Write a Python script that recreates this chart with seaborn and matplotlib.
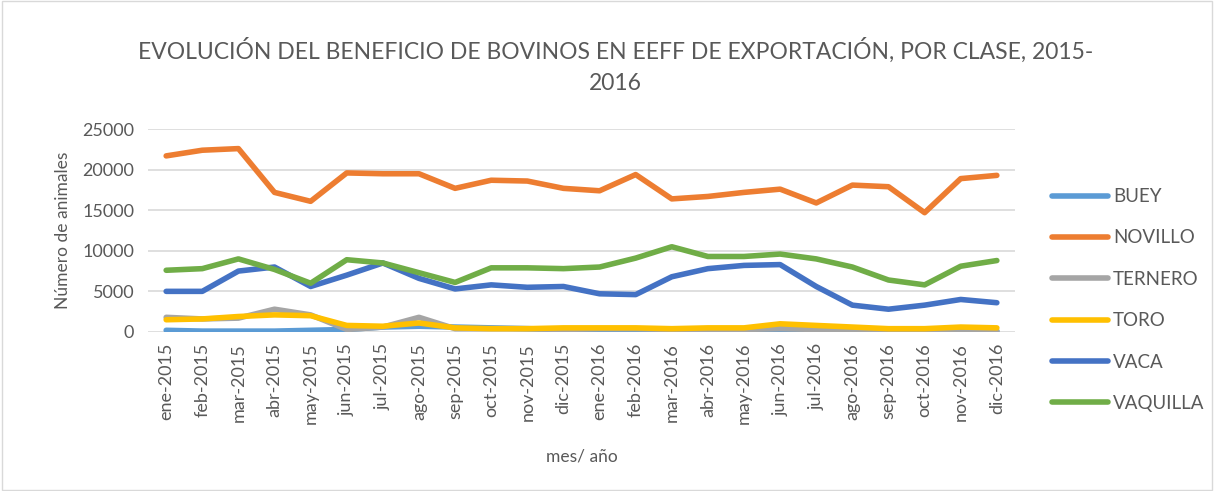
"""
Evolución del beneficio de bovinos en EEFF de exportación, por clase
"""
import numpy as np
import pandas as pd
import matplotlib
matplotlib.use("Agg")
import matplotlib.pyplot as plt
import seaborn as sns

meses = ["ene-2015", "feb-2015", "mar-2015", "abr-2015", "may-2015", "jun-2015",
         "jul-2015", "ago-2015", "sep-2015", "oct-2015", "nov-2015", "dic-2015",
         "ene-2016", "feb-2016", "mar-2016", "abr-2016", "may-2016", "jun-2016",
         "jul-2016", "ago-2016", "sep-2016", "oct-2016", "nov-2016", "dic-2016"]

buey = [200, 100, 100, 100, 200, 300, 600, 700, 600, 500, 400, 300,
        200, 200, 200, 200, 300, 300, 200, 200, 200, 200, 100, 100]
novillo = [21700, 22400, 22600, 17200, 16100, 19600, 19500, 19500, 17700, 18700, 18600, 17700,
           17400, 19400, 16400, 16700, 17200, 17600, 15900, 18100, 17900, 14700, 18900, 19300]
ternero = [1800, 1600, 1700, 2800, 2100, 300, 600, 1800, 400, 400, 400, 300,
           400, 400, 300, 300, 300, 400, 300, 100, 200, 200, 100, 100]
toro = [1500, 1600, 1900, 2100, 2000, 800, 700, 1100, 500, 400, 400, 500,
        500, 500, 400, 500, 500, 1000, 800, 600, 400, 400, 600, 500]
vaca = [5000, 5000, 7500, 8000, 5600, 7000, 8500, 6600, 5300, 5800, 5500, 5600,
        4700, 4600, 6800, 7800, 8200, 8300, 5600, 3300, 2800, 3300, 4000, 3600]
vaquilla = [7600, 7800, 9000, 7700, 6000, 8900, 8500, 7300, 6100, 7900, 7900, 7800,
            8000, 9100, 10500, 9300, 9300, 9600, 9000, 8000, 6400, 5800, 8100, 8800]

clases = ["BUEY", "NOVILLO", "TERNERO", "TORO", "VACA", "VAQUILLA"]
colores = ["#5B9BD5", "#ED7D31", "#A5A5A5", "#FFC000", "#4472C4", "#70AD47"]

series = [buey, novillo, ternero, toro, vaca, vaquilla]
df = pd.concat([
    pd.DataFrame({"idx": np.arange(len(meses)), "mes": meses, "valor": v, "clase": c})
    for c, v in zip(clases, series)
])

sns.set_style("white")
plt.rcParams["font.family"] = ["Lato", "DejaVu Sans"]
gris = "#595959"

fig = plt.figure(figsize=(12.14, 4.91), dpi=100)
ax = fig.add_axes([0.122, 0.324, 0.714, 0.413])

sns.lineplot(data=df, x="idx", y="valor", hue="clase", hue_order=clases,
             palette=colores, linewidth=4.0, ax=ax, legend=True,
             solid_capstyle="round", solid_joinstyle="round")

ax.set_xlim(-0.5, len(meses) - 0.5)
ax.set_ylim(0, 25000)
ax.set_yticks(range(0, 25001, 5000))
ax.set_xticks(range(len(meses)))
ax.set_xticklabels(meses, rotation=90, fontsize=13, color=gris)
ax.tick_params(axis="y", labelsize=13, labelcolor=gris, length=0, pad=10)
ax.tick_params(axis="x", length=0, pad=8)
ax.yaxis.grid(True, color="#D9D9D9", linewidth=1.2)
ax.set_axisbelow(True)
for s in ax.spines.values():
    s.set_visible(False)

ax.set_xlabel("mes/ año", fontsize=12.5, color=gris, labelpad=17)
ax.set_ylabel("Número de animales", fontsize=12.5, color=gris, labelpad=8)

fig.text(0.507, 0.897, "EVOLUCIÓN DEL BENEFICIO DE BOVINOS EN EEFF DE EXPORTACIÓN, POR CLASE, 2015-",
         ha="center", va="center", fontsize=16.5, color=gris)
fig.text(0.507, 0.83, "2016", ha="center", va="center", fontsize=16.5, color=gris)

leg = ax.legend(loc="center left", bbox_to_anchor=(1052 / 1214, 1 - 300 / 491),
                bbox_transform=fig.transFigure, frameon=False, borderpad=0,
                borderaxespad=0, fontsize=13.5, labelcolor=gris, handlelength=3.0,
                labelspacing=1.3, handletextpad=0.25)
for line in leg.get_lines():
    line.set_linewidth(4.0)
    line.set_solid_capstyle("round")

fig.patches.append(plt.Rectangle((0.002, 0.003), 0.996, 0.994, transform=fig.transFigure,
                                 fill=False, edgecolor="#D9D9D9", linewidth=1))

plt.savefig("out.png", dpi=100)
plt.close()
